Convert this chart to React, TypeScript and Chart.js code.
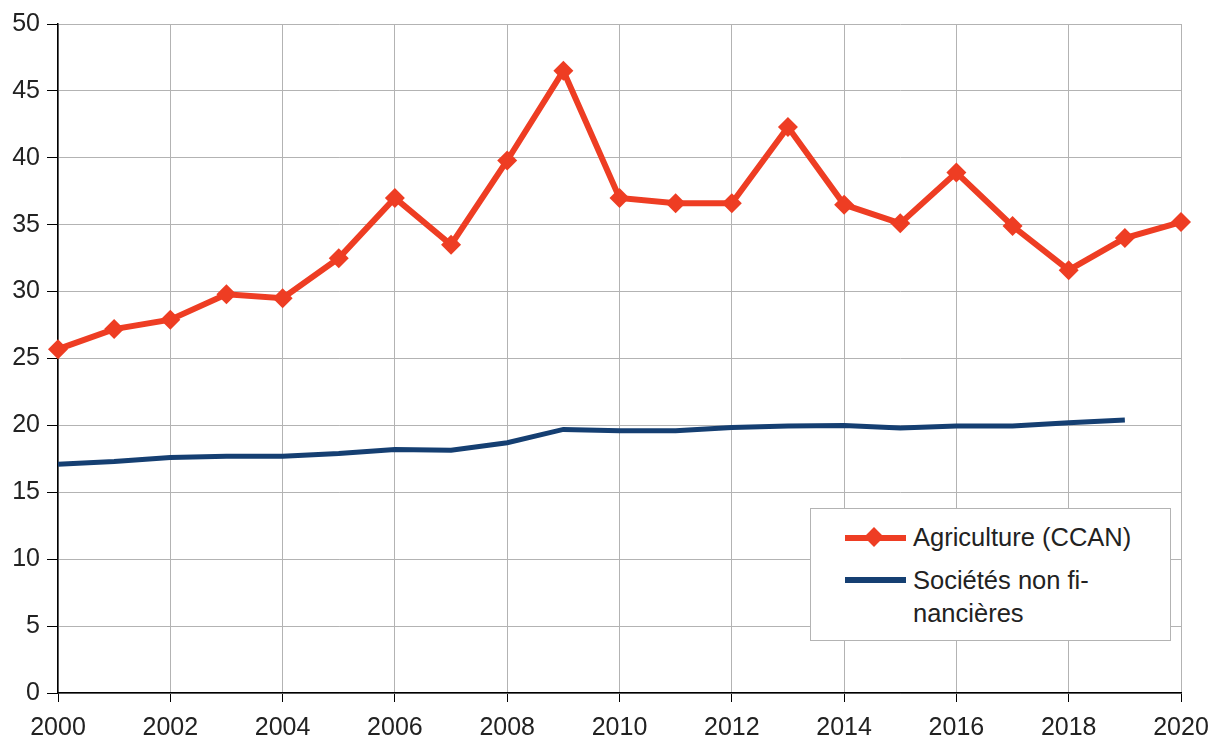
import React, { useEffect, useRef } from "react";
import { Chart, registerables } from "chart.js";

Chart.register(...registerables);

const years = [2000, 2001, 2002, 2003, 2004, 2005, 2006, 2007, 2008, 2009, 2010, 2011, 2012, 2013, 2014, 2015, 2016, 2017, 2018, 2019, 2020];
const agriculture = [25.7, 27.2, 27.9, 29.8, 29.5, 32.5, 37.0, 33.5, 39.8, 46.5, 37.0, 36.6, 36.6, 42.3, 36.5, 35.1, 38.9, 34.9, 31.6, 34.0, 35.2];
const societes = [17.1, 17.3, 17.6, 17.7, 17.7, 17.9, 18.2, 18.15, 18.7, 19.7, 19.6, 19.6, 19.85, 19.95, 20.0, 19.8, 19.95, 19.95, 20.2, 20.4];

const labelAgri = "Agriculture (CCAN)";
const labelSoc = "Sociétés non fi-";
const labelSoc2 = "nancières";

const RED = "#ee3d23";
const BLUE = "#153f72";
const FONT = "'Liberation Sans', Arial, sans-serif";

export default function App() {
  const ref = useRef<HTMLCanvasElement | null>(null);

  useEffect(() => {
    if (!ref.current) return;
    const chart = new Chart(ref.current, {
      type: "line",
      data: {
        datasets: [
          {
            label: labelAgri,
            data: agriculture.map((v, i) => ({ x: years[i], y: v })),
            borderColor: RED,
            backgroundColor: RED,
            borderWidth: 6,
            pointStyle: "rectRot",
            pointRadius: 10,
            pointBorderWidth: 0,
            tension: 0,
            clip: false,
          },
          {
            label: labelSoc + labelSoc2,
            data: societes.map((v, i) => ({ x: years[i], y: v })),
            borderColor: BLUE,
            backgroundColor: BLUE,
            borderWidth: 5,
            pointRadius: 0,
            tension: 0,
            clip: false,
          },
        ],
      },
      options: {
        animation: false,
        responsive: false,
        maintainAspectRatio: false,
        layout: { padding: { top: 24, right: 31, left: 0, bottom: 0 } },
        plugins: { legend: { display: false }, tooltip: { enabled: false } },
        scales: {
          x: {
            type: "linear",
            min: 2000,
            max: 2020,
            afterFit: (s: any) => {
              s.height = 47;
              s.paddingLeft = 0;
              s.paddingRight = 0;
            },
            ticks: {
              stepSize: 2,
              callback: (v: any) => String(v),
              font: { family: FONT, size: 25 },
              color: "#222",
              padding: 11,
              maxRotation: 0,
            },
            grid: { color: "#b3b3b3", lineWidth: 1, tickColor: "#000", tickLength: 9 },
            border: { color: "#000", width: 1.5 },
          },
          y: {
            min: 0,
            max: 50,
            afterFit: (s: any) => {
              s.width = 58;
              s.paddingTop = 0;
              s.paddingBottom = 0;
            },
            ticks: {
              stepSize: 5,
              font: { family: FONT, size: 25 },
              color: "#222",
              padding: 7,
            },
            grid: { color: "#b3b3b3", lineWidth: 1, tickColor: "#000", tickLength: 11 },
            border: { color: "#000", width: 1.5 },
          },
        },
      },
    });
    return () => chart.destroy();
  }, []);

  const textStyle: React.CSSProperties = {
    position: "absolute",
    left: 102,
    fontFamily: FONT,
    fontSize: 25.5,
    color: "#222",
    whiteSpace: "nowrap",
    lineHeight: "33px",
  };

  return (
    <div style={{ position: "fixed", left: 0, top: 0, width: 1212, height: 740, background: "#fff" }}>
      <canvas ref={ref} width={1212} height={740} style={{ display: "block" }} />
      <div
        style={{
          position: "absolute",
          left: 810,
          top: 508,
          width: 361,
          height: 133,
          border: "1px solid #b3b3b3",
          background: "#fff",
          boxSizing: "border-box",
        }}
      >
        <div style={{ position: "absolute", left: 34, top: 26, width: 61, height: 6, background: RED }} />
        <div
          style={{
            position: "absolute",
            left: 56,
            top: 21,
            width: 14,
            height: 14,
            background: RED,
            transform: "rotate(45deg)",
          }}
        />
        <div style={{ ...textStyle, top: 12 }}>{labelAgri}</div>
        <div style={{ position: "absolute", left: 34, top: 68, width: 61, height: 6, background: BLUE }} />
        <div style={{ ...textStyle, top: 55 }}>{labelSoc}</div>
        <div style={{ ...textStyle, top: 88 }}>{labelSoc2}</div>
      </div>
    </div>
  );
}
